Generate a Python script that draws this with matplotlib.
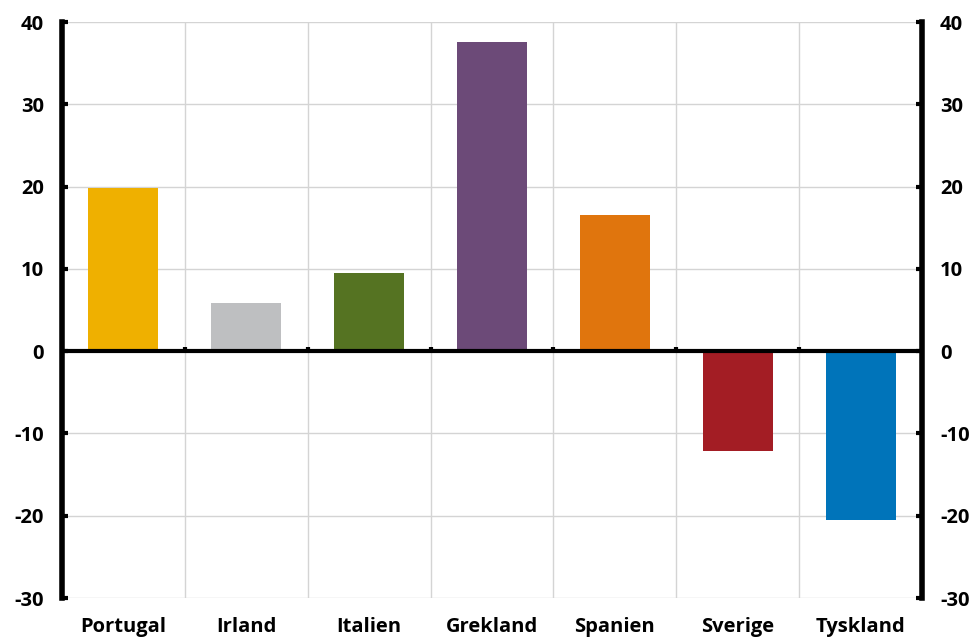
import matplotlib
matplotlib.use("Agg")
import matplotlib.pyplot as plt
import numpy as np

categories = ["Portugal", "Irland", "Italien", "Grekland", "Spanien", "Sverige", "Tyskland"]
values = [19.8, 5.8, 9.5, 37.6, 16.6, -12.1, -20.5]
colors = ["#EFB000", "#BEBFC1", "#557322", "#6C4A78", "#E0750D", "#A31D24", "#0074BA"]
yticks = [-30, -20, -10, 0, 10, 20, 30, 40]

plt.rcParams['font.family'] = ['Open Sans', 'DejaVu Sans']
plt.rcParams['axes.unicode_minus'] = False

fig = plt.figure(figsize=(9.77, 6.37), dpi=100)
ax = fig.add_axes([62/977, 39/637, 860/977, 576/637])

x = np.arange(len(categories))
ax.bar(x, values, width=0.57, color=colors, zorder=3)

ax.set_xlim(-0.5, len(categories) - 0.5)
ax.set_ylim(-30, 40)

bounds = np.arange(len(categories) + 1) - 0.5
ax.set_xticks(bounds, minor=True)
ax.set_xticks(x)
ax.set_xticklabels(categories, fontsize=14.5, fontweight='bold')
ax.tick_params(axis='x', which='both', length=0, pad=14)
ax.grid(True, which='minor', axis='x', color='#d4d4d4', linewidth=1, zorder=0)
ax.set_yticks(yticks)
ax.grid(True, which='major', axis='y', color='#d4d4d4', linewidth=1, zorder=0)

ax.tick_params(axis='y', direction='in', length=4, width=3, labelsize=14.5,
               left=True, right=True, labelleft=True, labelright=True, pad=13)
for lab in ax.get_yticklabels():
    lab.set_fontweight('bold')

ax.axhline(0, color='black', linewidth=3, zorder=4)
ax.vlines(bounds[1:-1], 0, 0.45, color='black', linewidth=3, zorder=4)

for s in ['top', 'bottom']:
    ax.spines[s].set_visible(False)
for s in ['left', 'right']:
    ax.spines[s].set_linewidth(4)
    ax.spines[s].set_zorder(5)

fig.savefig("out.png", dpi=100)
